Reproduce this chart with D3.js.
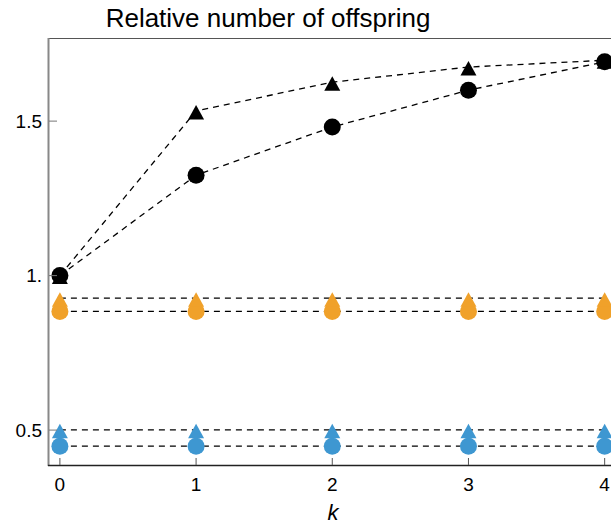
<!DOCTYPE html>
<html>
<head>
<meta charset="utf-8">
<script src="https://cdn.jsdelivr.net/npm/d3@7"></script>
<style>
  body { margin: 0; background: #fff; }
  text { font-family: "Liberation Sans", Arial, sans-serif; }
</style>
</head>
<body>
<svg id="chart" width="611" height="526"></svg>
<script>
// values
var ks = [0, 1, 2, 3, 4];
var blackTri = [1.0, 1.533, 1.626, 1.675, 1.697];
var blackCirc = [1.0, 1.325, 1.481, 1.600, 1.692];
var orangeTri = [0.927, 0.927, 0.927, 0.927, 0.927];
var orangeCirc = [0.884, 0.884, 0.884, 0.884, 0.884];
var blueTri = [0.501, 0.501, 0.501, 0.501, 0.501];
var blueCirc = [0.448, 0.448, 0.448, 0.448, 0.448];
var yTicks = [0.5, 1.0, 1.5];
var yTickLabels = ["0.5", "1.", "1.5"];

var series = [
  {vals: blueCirc, shape: "circle", color: "#3E97D1"},
  {vals: blueTri, shape: "triangle", color: "#3E97D1"},
  {vals: orangeCirc, shape: "circle", color: "#F0A12A"},
  {vals: orangeTri, shape: "triangle", color: "#F0A12A"},
  {vals: blackTri, shape: "triangle", color: "#000"},
  {vals: blackCirc, shape: "circle", color: "#000"}
];

var svg = d3.select("#chart");

var x = d3.scaleLinear().domain([-0.08, 4.12]).range([49, 621]);
var y = d3.scaleLinear().domain([0.387, 1.769]).range([465, 38]);

// title
svg.append("text")
    .attr("x", 268).attr("y", 27)
    .attr("text-anchor", "middle")
    .attr("font-size", 26)
    .attr("fill", "#000")
    .text("Relative number of offspring");

// dashed lines
var line = d3.line()
    .x(function(d, i) { return x(ks[i]); })
    .y(function(d) { return y(d); });

svg.append("g").selectAll("path")
    .data(series)
    .enter().append("path")
    .attr("d", function(d) { return line(d.vals); })
    .attr("fill", "none")
    .attr("stroke", "#000")
    .attr("stroke-width", 1.3)
    .attr("stroke-dasharray", "6,5");

// markers (triangle glyph sits a bit low on its point, like the original)
var triPath = "M0,-6L8,8.5L-8,8.5Z";
series.forEach(function(s) {
  var g = svg.append("g");
  if (s.shape === "circle") {
    g.selectAll("circle")
      .data(s.vals)
      .enter().append("circle")
      .attr("cx", function(d, i) { return x(ks[i]); })
      .attr("cy", function(d) { return y(d); })
      .attr("r", 8.5)
      .attr("fill", s.color);
  } else {
    g.selectAll("path")
      .data(s.vals)
      .enter().append("path")
      .attr("d", triPath)
      .attr("transform", function(d, i) { return "translate(" + x(ks[i]) + "," + y(d) + ")"; })
      .attr("fill", s.color);
  }
});

// frame
svg.append("line")
    .attr("x1", 48.5).attr("x2", 611).attr("y1", 38.5).attr("y2", 38.5)
    .attr("stroke", "#555").attr("stroke-width", 1.2);
svg.append("line")
    .attr("x1", 48.5).attr("x2", 48.5).attr("y1", 38).attr("y2", 466)
    .attr("stroke", "#888").attr("stroke-width", 2);
svg.append("line")
    .attr("x1", 48).attr("x2", 611).attr("y1", 465.5).attr("y2", 465.5)
    .attr("stroke", "#222").attr("stroke-width", 1.5);

// y ticks
var yg = svg.append("g");
yg.selectAll("line")
    .data(yTicks)
    .enter().append("line")
    .attr("x1", 49).attr("x2", 57)
    .attr("y1", function(d) { return y(d); })
    .attr("y2", function(d) { return y(d); })
    .attr("stroke", "#777").attr("stroke-width", 1);
yg.selectAll("text")
    .data(yTicks)
    .enter().append("text")
    .attr("x", 42)
    .attr("y", function(d) { return y(d); })
    .attr("dy", "0.36em")
    .attr("text-anchor", "end")
    .attr("font-size", 19)
    .text(function(d, i) { return yTickLabels[i]; });

// x ticks
var xg = svg.append("g");
xg.selectAll("line")
    .data(ks)
    .enter().append("line")
    .attr("x1", function(d) { return x(d); })
    .attr("x2", function(d) { return x(d); })
    .attr("y1", 458).attr("y2", 465)
    .attr("stroke", "#555").attr("stroke-width", 1);
xg.selectAll("text")
    .data(ks)
    .enter().append("text")
    .attr("x", function(d) { return x(d); })
    .attr("y", 491)
    .attr("text-anchor", "middle")
    .attr("font-size", 19)
    .text(function(d) { return d; });

// x label
svg.append("text")
    .attr("x", 333).attr("y", 520)
    .attr("text-anchor", "middle")
    .attr("font-family", "'DejaVu Serif', 'Liberation Serif', serif")
    .attr("font-style", "italic")
    .attr("font-size", 22)
    .text("k");
</script>
</body>
</html>
